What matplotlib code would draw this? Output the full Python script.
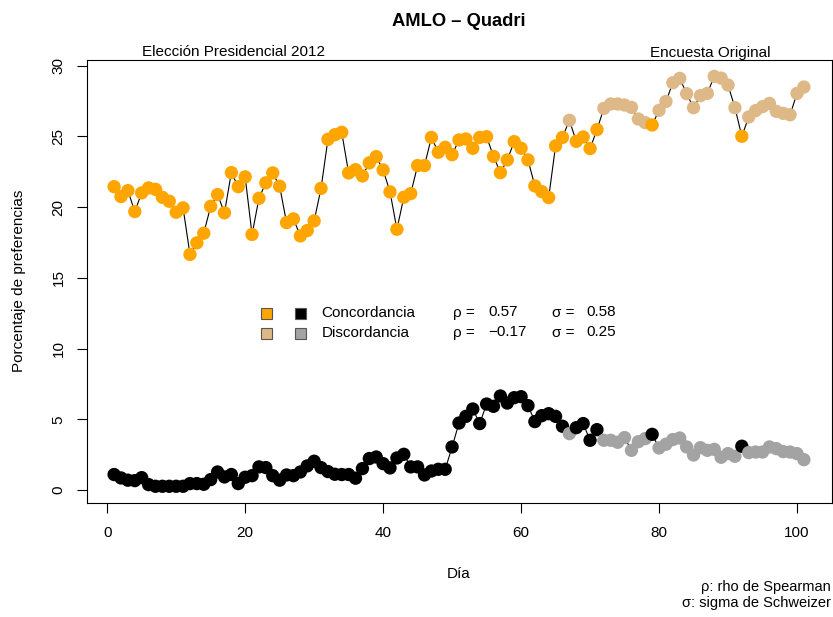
import matplotlib

matplotlib.use("Agg")
import matplotlib.pyplot as plt
from matplotlib.patches import Rectangle

plt.rcParams["font.family"] = ["Liberation Sans", "DejaVu Sans"]
plt.rcParams["axes.unicode_minus"] = True

# Daily poll share (%), AMLO (upper) and Quadri (lower)
amlo = [21.45, 20.75, 21.17, 19.69, 21.01, 21.36, 21.26, 20.70, 20.42, 19.64,
        19.95, 16.66, 17.48, 18.16, 20.06, 20.89, 19.60, 22.44, 21.45, 22.14,
        18.07, 20.63, 21.72, 22.42, 21.48, 18.91, 19.17, 17.97, 18.35, 19.03,
        21.33, 24.79, 25.12, 25.29, 22.42, 22.65, 22.21, 23.13, 23.57, 22.63,
        21.08, 18.44, 20.70, 20.96, 22.94, 22.94, 24.93, 23.88, 24.23, 23.71,
        24.75, 24.82, 24.16, 24.93, 24.98, 23.59, 22.44, 23.34, 24.63, 24.16,
        23.34, 21.50, 21.10, 20.68, 24.33, 24.93, 26.14, 24.65, 24.96, 24.14,
        25.48, 26.98, 27.29, 27.29, 27.22, 27.05, 26.23, 25.97, 25.81, 26.84,
        27.47, 28.79, 29.10, 28.02, 27.03, 27.88, 28.04, 29.24, 29.12, 28.63,
        27.03, 25.01, 26.37, 26.82, 27.10, 27.33, 26.77, 26.63, 26.53, 28.04,
        28.49]
quadri = [1.11, 0.87, 0.71, 0.68, 0.89, 0.40, 0.28, 0.28, 0.28, 0.28,
          0.28, 0.47, 0.47, 0.42, 0.75, 1.29, 0.94, 1.11, 0.47, 0.92,
          1.03, 1.65, 1.60, 1.03, 0.71, 1.08, 1.03, 1.29, 1.72, 2.05,
          1.60, 1.32, 1.13, 1.11, 1.11, 0.85, 1.53, 2.24, 2.35, 1.88,
          1.58, 2.28, 2.54, 1.65, 1.65, 1.08, 1.36, 1.48, 1.48, 3.06,
          4.75, 5.22, 5.74, 4.71, 6.09, 5.93, 6.66, 6.16, 6.54, 6.61,
          5.98, 4.85, 5.27, 5.41, 5.22, 4.52, 4.00, 4.42, 4.71, 3.53,
          4.28, 3.53, 3.53, 3.39, 3.72, 2.82, 3.43, 3.65, 3.95, 2.99,
          3.25, 3.58, 3.69, 3.06, 2.49, 3.01, 2.82, 2.89, 2.33, 2.59,
          2.40, 3.11, 2.66, 2.70, 2.70, 3.06, 2.94, 2.73, 2.70, 2.59,
          2.16]
days = list(range(1, len(amlo) + 1))
discordant_days = [67, 72, 73, 74, 75, 76, 77, 78,
                   80, 81, 82, 83, 84, 85, 86, 87, 88, 89, 90, 91,
                   93, 94, 95, 96, 97, 98, 99, 100, 101]

legend_labels = ["Concordancia", "Discordancia"]
legend_rho = ["0.57", "\u22120.17"]
legend_sigma = ["0.58", "0.25"]

ORANGE, TAN = "#FFA500", "#DEB887"
BLACK, GRAY = "black", "#A3A3A3"

W, H = 833, 617


def fx(px):
    return px / W


def fy(py):
    return 1 - py / H


fig = plt.figure(figsize=(W / 100, H / 100), dpi=100)
ax = fig.add_axes([fx(86.5), fy(502.7), fx(831.5) - fx(86.5), fy(59.7) - fy(502.7)])

disc = set(discordant_days)
up_col = [TAN if d in disc else ORANGE for d in days]
lo_col = [GRAY if d in disc else BLACK for d in days]

for series, cols in ((amlo, up_col), (quadri, lo_col)):
    ax.plot(days, series, color="black", lw=0.8, zorder=1)
    ax.scatter(days, series, c=cols, s=92, linewidths=0, zorder=2)

ax.set_xlim(-3, 105)
ax.set_ylim(-0.88, 30.42)
ax.set_xticks([0, 20, 40, 60, 80, 100])
ax.set_yticks([0, 5, 10, 15, 20, 25, 30])
ax.tick_params(axis="both", direction="out", length=7, width=0.8, labelsize=11)
ax.tick_params(axis="x", pad=10)
ax.tick_params(axis="y", pad=8)
for lab in ax.get_yticklabels():
    lab.set_rotation(90)
    lab.set_va("center")
for sp in ax.spines.values():
    sp.set_linewidth(0.8)

fig.text(fx(459), fy(26), "AMLO \u2013 Quadri", ha="center", va="baseline",
         fontsize=13.2, fontweight="bold")
fig.text(fx(233), fy(56.5), "Elección Presidencial 2012", ha="center",
         va="baseline", fontsize=11)
fig.text(fx(710), fy(56.5), "Encuesta Original", ha="center",
         va="baseline", fontsize=11)
fig.text(fx(459), fy(578), "Día", ha="center", va="baseline", fontsize=11)
fig.text(fx(19), fy(281), "Porcentaje de preferencias", ha="center",
         va="center", rotation=90, fontsize=11)
fig.text(fx(831), fy(591.5), "ρ: rho de Spearman", ha="right",
         va="baseline", fontsize=10.5)
fig.text(fx(831), fy(607.5), "σ: sigma de Schweizer", ha="right",
         va="baseline", fontsize=10.5)

# legend block inside the plot
rows_y = [313.3, 333.3]
for i, yc in enumerate(rows_y):
    for x0, col in ((261, (ORANGE, TAN)[i]), (295, (BLACK, GRAY)[i])):
        fig.add_artist(Rectangle((fx(x0), fy(yc + 5.5)), 11 / W, 11 / H,
                                 transform=fig.transFigure, facecolor=col,
                                 edgecolor="#555555", lw=0.8))
    fig.text(fx(321.5), fy(yc), legend_labels[i], ha="left", va="center",
             fontsize=11)
    fig.text(fx(453), fy(yc), "ρ =", ha="left", va="center", fontsize=11)
    fig.text(fx(488), fy(yc - 1), legend_rho[i], ha="left", va="center",
             fontsize=11)
    fig.text(fx(551.5), fy(yc), "σ =", ha="left", va="center", fontsize=11)
    fig.text(fx(586.5), fy(yc - 1), legend_sigma[i], ha="left", va="center",
             fontsize=11)

fig.savefig("out.png", dpi=100)
